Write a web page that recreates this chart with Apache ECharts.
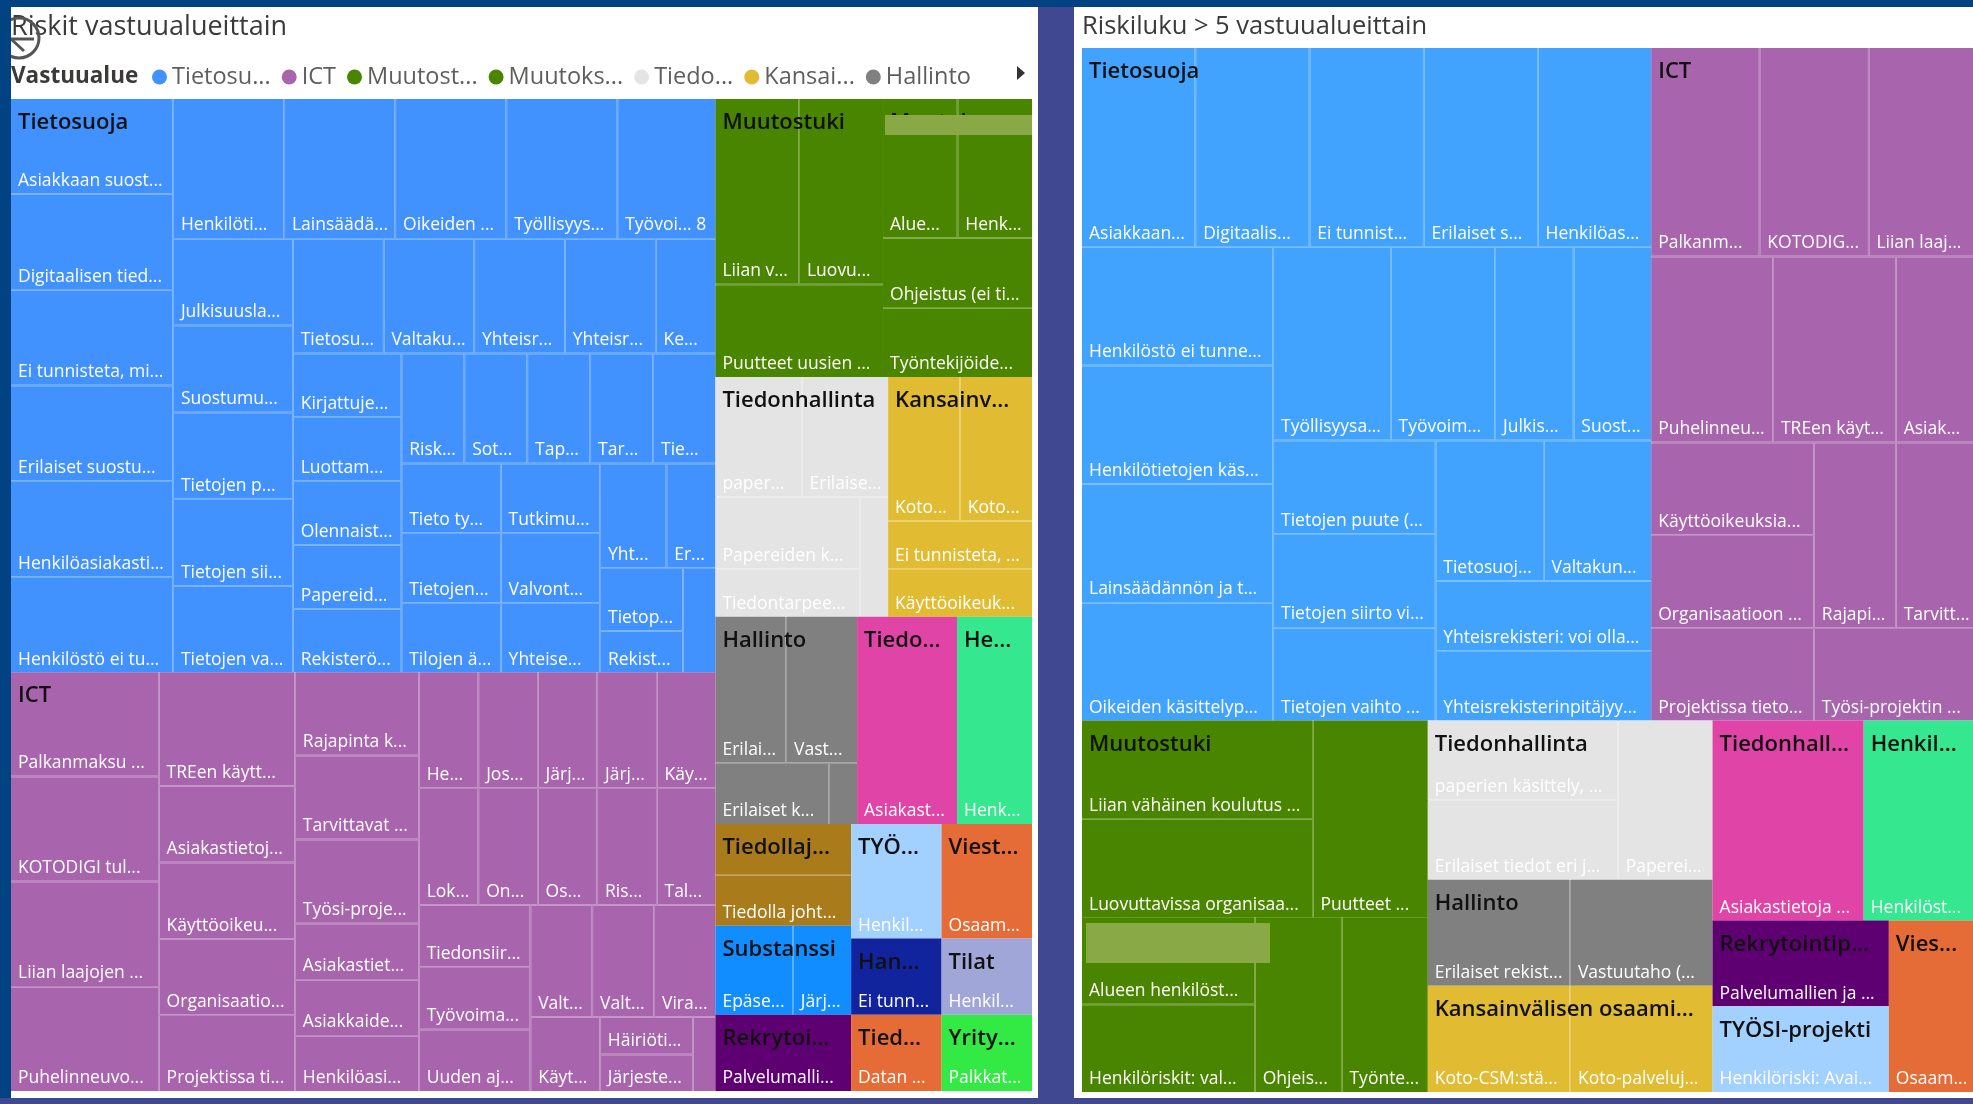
<!DOCTYPE html>
<html>
<head>
<meta charset="utf-8">
<title>Riskit vastuualueittain</title>
<script src="https://cdn.jsdelivr.net/npm/echarts@6/dist/echarts.min.js"></script>
<style>
  html, body { margin: 0; padding: 0; background: #004282; }
  #chart { width: 1973px; height: 1104px; }
</style>
</head>
<body>
<div id="chart"></div>
<script>
// Left treemap: every risk, values read from the tile areas
const leftGroups = ['Tietosuoja', 'ICT', 'Muutostuki', 'Muutoks...', 'Tiedonhallinta', 'Kansainv...', 'Hallinto', 'Tiedo...', 'He...', 'Tiedollaj...', 'Substanssi', 'Rekrytoi...', 'TYÖ...', 'Viest...', 'Han...', 'Tied...', 'Tilat', 'Yrity...'];
const leftColors = ['#4191FF', '#A864AD', '#4A8500', '#4A8500', '#E4E4E4', '#E1BC32', '#808080', '#E044A7', '#35E88F', '#AA7B1A', '#118DFF', '#5F0072', '#A2D0FF', '#E66C37', '#12239E', '#E66C37', '#A0A6D8', '#33EA44'];
const leftLeaves = [
  ['Asiakkaan suost...', 'Digitaalisen tied...', 'Ei tunnisteta, mi...', 'Erilaiset suostu...', 'Henkilöasiakasti...', 'Henkilöstö ei tu...', 'Henkilöti...', 'Lainsäädä...', 'Oikeiden ...', 'Työllisyys...', 'Työvoi... 8', 'Julkisuusla...', 'Suostumu...', 'Tietojen p...', 'Tietojen sii...', 'Tietojen va...', 'Tietosu...', 'Valtaku...', 'Yhteisr...', 'Yhteisr...', 'Ke...', 'Kirjattuje...', 'Luottam...', 'Olennaist...', 'Papereid...', 'Rekisterö...', 'Risk...', 'Sot...', 'Tap...', 'Tar...', 'Tie...', 'Tieto ty...', 'Tietojen...', 'Tilojen ä...', 'Tutkimu...', 'Valvont...', 'Yhteise...', 'Yht...', 'Er...', 'Tietop...', 'Rekist...', ''],
  ['Palkanmaksu ...', 'KOTODIGI tul...', 'Liian laajojen ...', 'Puhelinneuvo...', 'TREen käytt...', 'Asiakastietoj...', 'Käyttöoikeu...', 'Organisaatio...', 'Projektissa ti...', 'Rajapinta k...', 'Tarvittavat ...', 'Työsi-proje...', 'Asiakastiet...', 'Asiakkaide...', 'Henkilöasi...', 'He...', 'Jos...', 'Järj...', 'Järj...', 'Käy...', 'Lok...', 'On...', 'Os...', 'Ris...', 'Tal...', 'Tiedonsiir...', 'Työvoima...', 'Uuden aj...', 'Valt...', 'Valt...', 'Vira...', 'Käyt...', 'Häiriöti...', 'Järjeste...', ''],
  ['Liian v...', 'Luovu...', 'Puutteet uusien ...'],
  ['Alue...', 'Henk...', 'Ohjeistus (ei ti...', 'Työntekijöide...'],
  ['paper...', 'Erilaise...', 'Papereiden k...', 'Tiedontarpee...', ''],
  ['Koto...', 'Koto...', 'Ei tunnisteta, ...', 'Käyttöoikeuk...'],
  ['Erilai...', 'Vast...', 'Erilaiset k...', ''],
  ['Asiakast...'],
  ['Henk...'],
  ['', 'Tiedolla joht...'],
  ['Epäse...', 'Järj...'],
  ['Palvelumalli...'],
  ['Henkil...'],
  ['Osaam...'],
  ['Ei tunn...'],
  ['Datan ...'],
  ['Henkil...'],
  ['Palkkat...']
];
const leftValues = [
  [9, 9, 9, 9, 9, 9, 9, 9, 9, 9, 8, 6, 6, 6, 6, 6, 6, 6, 6, 6, 4, 4, 4, 4, 4, 4, 4, 4, 4, 4, 4, 4, 4, 4, 4, 4, 4, 4, 3, 3, 2, 2],
  [9, 9, 9, 9, 9, 6, 6, 6, 6, 6, 6, 6, 4, 4, 4, 4, 4, 4, 4, 4, 4, 4, 4, 4, 4, 4, 4, 4, 4, 4, 4, 3, 2, 2, 1],
  [9, 9, 9],
  [6, 6, 6, 6],
  [6, 6, 6, 4, 2],
  [6, 6, 4, 4],
  [6, 6, 4, 1],
  [12],
  [9],
  [4, 4],
  [4, 3],
  [6],
  [6],
  [6],
  [4],
  [4],
  [4],
  [4]
];

// Right treemap: risks with risk score above 5
const rightGroups = ['Tietosuoja', 'ICT', 'Muutostuki', 'Muutoks...', 'Tiedonhallinta', 'Hallinto', 'Kansainvälisen osaami...', 'Tiedonhall...', 'Henkil...', 'Rekrytointip...', 'TYÖSI-projekti', 'Vies...'];
const rightColors = ['#42A3FF', '#A864AD', '#4A8500', '#4A8500', '#E4E4E4', '#808080', '#E1BC32', '#E044A7', '#35E88F', '#5F0072', '#A2D0FF', '#E66C37'];
const rightLeaves = [
  ['Asiakkaan...', 'Digitaalis...', 'Ei tunnist...', 'Erilaiset s...', 'Henkilöas...', 'Henkilöstö ei tunne...', 'Henkilötietojen käs...', 'Lainsäädännön ja t...', 'Oikeiden käsittelyp...', 'Työllisyysa...', 'Työvoim...', 'Julkis...', 'Suost...', 'Tietojen puute (...', 'Tietojen siirto vi...', 'Tietojen vaihto ...', 'Tietosuoj...', 'Valtakun...', 'Yhteisrekisteri: voi olla...', 'Yhteisrekisterinpitäjyy...'],
  ['Palkanm...', 'KOTODIG...', 'Liian laaj...', 'Puhelinneu...', 'TREen käyt...', 'Asiak...', 'Käyttöoikeuksia...', 'Organisaatioon ...', 'Projektissa tieto...', 'Rajapi...', 'Tarvitt...', 'Työsi-projektin ...'],
  ['Liian vähäinen koulutus ...', 'Luovuttavissa organisaa...', 'Puutteet ...'],
  ['Alueen henkilöst...', 'Henkilöriskit: val...', 'Ohjeis...', 'Työnte...'],
  ['paperien käsittely, ...', 'Erilaiset tiedot eri j...', 'Paperei...'],
  ['Erilaiset rekist...', 'Vastuutaho (...'],
  ['Koto-CSM:stä...', 'Koto-palveluj...'],
  ['Asiakastietoja ...'],
  ['Henkilöst...'],
  ['Palvelumallien ja ...'],
  ['Henkilöriski: Avai...'],
  ['Osaam...']
];
const rightValues = [
  [9, 9, 9, 9, 9, 9, 9, 9, 9, 9, 8, 6, 6, 6, 6, 6, 6, 6, 6, 6],
  [9, 9, 9, 9, 9, 6, 6, 6, 6, 6, 6, 6],
  [9, 9, 9],
  [6, 6, 6, 6],
  [6, 6, 6],
  [6, 6],
  [6, 6],
  [12],
  [9],
  [6],
  [6],
  [6]
];

// Legend of the left visual
const legendNames = ['Tietosu...', 'ICT', 'Muutost...', 'Muutoks...', 'Tiedo...', 'Kansai...', 'Hallinto'];
const legendColors = ['#4191FF', '#A864AD', '#4A8500', '#4A8500', '#E4E4E4', '#E1BC32', '#808080'];

const uiFont = '"Open Sans", "Noto Sans", sans-serif';
const leftBox = { left: 11, top: 99, width: 1021, height: 992 };
const rightBox = { left: 1082, top: 48, width: 895, height: 1044 };
const noColor = 'rgba(0,0,0,0)';

function sum(list) {
  return list.reduce((a, b) => a + b, 0);
}

// The tiles themselves, with the lighter tone showing through the gaps.
// Data is already sorted big to small, sort: false keeps ties in reading order
function tileSeries(name, box, groups, colors, leaves, values) {
  return {
    type: 'treemap',
    name: name,
    ...box,
    sort: false,
    roam: false,
    nodeClick: false,
    silent: true,
    breadcrumb: { show: false },
    label: {
      show: true,
      position: 'insideBottomLeft',
      color: '#fff',
      fontFamily: uiFont,
      fontSize: 17.5,
      overflow: 'none',
      padding: [0, 0, 3.5, 7]
    },
    upperLabel: { show: false },
    levels: [
      { itemStyle: { borderWidth: 0, gapWidth: 0 } },
      { itemStyle: { borderWidth: 0, gapWidth: 1.5 } },
      { itemStyle: { borderWidth: 0, gapWidth: 0 } }
    ],
    data: groups.map((g, i) => ({
      name: g,
      itemStyle: {
        color: colors[i],
        borderColor: echarts.color.lerp(0.22, [colors[i], '#ffffff'])
      },
      children: leaves[i].map((leaf, j) => ({
        name: leaf,
        value: values[i][j],
        itemStyle: { color: colors[i] }
      }))
    }))
  };
}

// Same group totals again, only to put the group name over the tiles
function groupNameSeries(name, box, groups, values) {
  return {
    type: 'treemap',
    name: name,
    ...box,
    z: 3,
    sort: false,
    roam: false,
    nodeClick: false,
    silent: true,
    breadcrumb: { show: false },
    label: {
      show: true,
      position: 'insideTopLeft',
      color: '#111',
      fontFamily: uiFont,
      fontSize: 22,
      fontWeight: 600,
      overflow: 'none',
      padding: [13, 0, 0, 7]
    },
    levels: [{ itemStyle: { borderWidth: 0, gapWidth: 0, borderColor: noColor } }],
    data: groups.map((g, i) => ({
      name: g,
      value: sum(values[i]),
      itemStyle: { color: noColor, borderColor: noColor, borderWidth: 0 }
    }))
  };
}

const chart = echarts.init(document.getElementById('chart'));

chart.setOption({
  animation: false,
  backgroundColor: '#004282',
  title: [
    { text: 'Riskit vastuualueittain', left: 6, top: 9, textStyle: { color: '#3b3a39', fontFamily: uiFont, fontSize: 27, fontWeight: 400 } },
    { text: 'Riskiluku > 5 vastuualueittain', left: 1077, top: 9, textStyle: { color: '#3b3a39', fontFamily: uiFont, fontSize: 25.5, fontWeight: 400 } },
    { text: 'Vastuualue', left: 6, top: 60, textStyle: { color: '#3b3a39', fontFamily: uiFont, fontSize: 22.5, fontWeight: 700 } }
  ],
  legend: {
    left: 147,
    top: 60,
    selectedMode: false,
    icon: 'circle',
    itemWidth: 15,
    itemHeight: 15,
    itemGap: 11,
    data: legendNames,
    textStyle: { color: '#605e5c', fontFamily: uiFont, fontSize: 23.5, padding: [0, 0, 0, 0] }
  },
  graphic: [
    { type: 'rect', z: -5, shape: { x: 11, y: 7, width: 1027, height: 1091 }, style: { fill: '#fff' } },
    { type: 'rect', z: -5, shape: { x: 1038, y: 7, width: 36, height: 1097 }, style: { fill: '#3F4891' } },
    { type: 'rect', z: -5, shape: { x: 0, y: 1098, width: 1973, height: 6 }, style: { fill: '#3F4891' } },
    { type: 'rect', z: -4, shape: { x: 1074, y: 7, width: 899, height: 1091 }, style: { fill: '#fff' } },
    // drill-up button, cut by the panel edge
    { type: 'circle', z: 100, shape: { cx: 19, cy: 38, r: 20 }, style: { fill: 'none', stroke: '#555', lineWidth: 3 } },
    { type: 'line', z: 100, shape: { x1: 11, y1: 39, x2: 34, y2: 39 }, style: { stroke: '#555', lineWidth: 3 } },
    { type: 'line', z: 100, shape: { x1: 11, y1: 39, x2: 24, y2: 51 }, style: { stroke: '#555', lineWidth: 3 } },
    { type: 'rect', z: 101, shape: { x: 0, y: 0, width: 11, height: 1098 }, style: { fill: '#004282' } },
    { type: 'polygon', z: 100, shape: { points: [[1017, 66], [1025, 73], [1017, 80]] }, style: { fill: '#333' } },
    // blocked-out labels in the source
    { type: 'rect', z: 100, shape: { x: 885, y: 115, width: 147, height: 20 }, style: { fill: '#88A945' } },
    { type: 'rect', z: 100, shape: { x: 1086, y: 923, width: 184, height: 40 }, style: { fill: '#88A945' } }
  ],
  series: [
    tileSeries('Riskit', leftBox, leftGroups, leftColors, leftLeaves, leftValues),
    groupNameSeries('Riskit otsikot', leftBox, leftGroups, leftValues),
    tileSeries('Riskiluku', rightBox, rightGroups, rightColors, rightLeaves, rightValues),
    groupNameSeries('Riskiluku otsikot', rightBox, rightGroups, rightValues),
    {
      // empty pie, only feeds the legend its names and colours
      type: 'pie',
      name: 'Vastuualue',
      radius: [0, 0],
      center: [-50, -50],
      silent: true,
      label: { show: false },
      labelLine: { show: false },
      data: legendNames.map((n, i) => ({ name: n, value: 1, itemStyle: { color: legendColors[i] } }))
    }
  ]
});
</script>
</body>
</html>
